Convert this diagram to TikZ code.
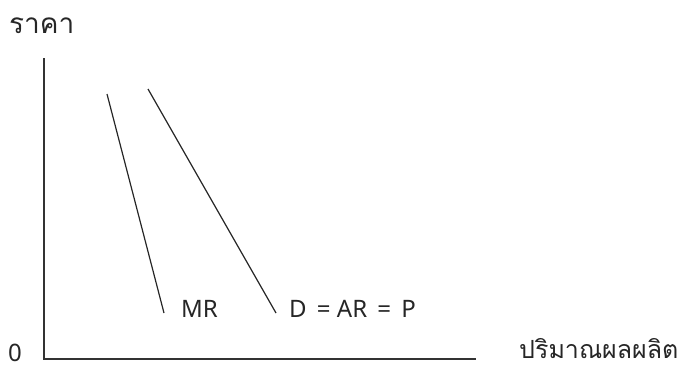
\documentclass[tikz,border=0pt]{standalone}
\usepackage{fontspec}
\setmainfont{Noto Sans}
\newfontfamily\thaifont[Script=Thai]{Loma}
\begin{document}
\begin{tikzpicture}[x=1pt,y=-1pt,
  curve/.style={line width=1.2pt,draw=black!85},
  axis/.style={line width=1.4pt,draw=black!80},
  lbl/.style={font=\fontsize{24}{26}\selectfont,text=black!85,inner sep=0pt},
  thlbl/.style={font=\thaifont\fontsize{25}{27}\selectfont,text=black!85,inner sep=0pt}]
\useasboundingbox (0,0) rectangle (685,368);
\coordinate (top) at (44,58);
\coordinate (origin) at (44,359);
\coordinate (xend) at (476,359);
\draw[axis] (top) -- (origin) -- (xend);
\coordinate (mr1) at (107,94);
\coordinate (mr2) at (164,313);
\coordinate (d1) at (148,89);
\coordinate (d2) at (276,313);
\draw[curve] (mr1) -- (mr2);
\draw[curve] (d1) -- (d2);
\node[thlbl,anchor=west,font=\thaifont\fontsize{28}{30}\selectfont] (price) at (9,26) {ราคา};
\node[lbl,anchor=west] (zero) at (8,353) {0};
\node[lbl,anchor=west] (mr) at (181,309) {MR};
\node[lbl,anchor=west] (d) at (289,309) {D\,{} = AR\,{} = \,P};
\node[thlbl,anchor=base west,text depth=0pt] (qty) at (519,358) {ปริมาณผลผลิต};
\end{tikzpicture}
\end{document}
